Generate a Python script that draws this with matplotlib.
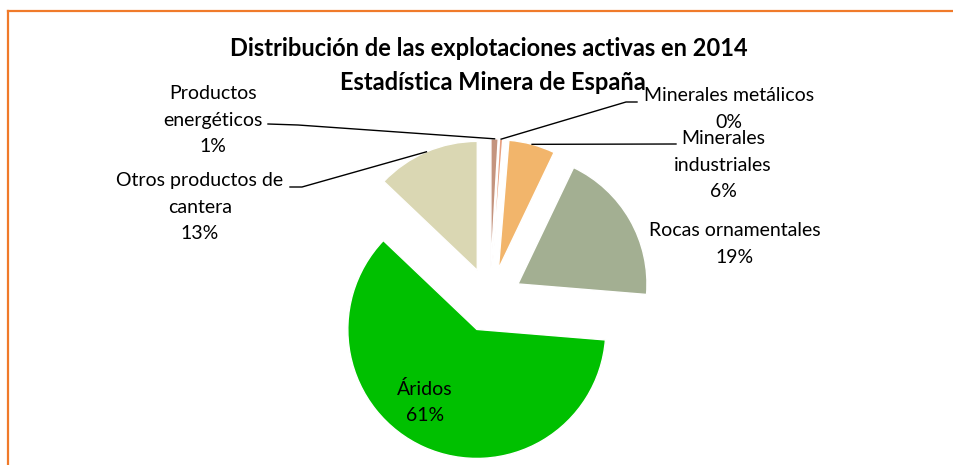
import numpy as np
import matplotlib
matplotlib.use("Agg")
import matplotlib.pyplot as plt
from matplotlib.lines import Line2D

# data (percent of active explotaciones, 2014)
categories = ["Productos\nenergéticos", "Minerales metálicos", "Minerales\nindustriales",
              "Rocas ornamentales", "Áridos", "Otros productos de\ncantera"]
values = [0.9, 0.4, 5.8, 19.2, 60.8, 12.9]
pct_labels = ["1%", "0%", "6%", "19%", "61%", "13%"]
colors = ["#C4947E", "#E8A080", "#F2B56B", "#A3AF92", "#00C000", "#DAD7B3"]

W, H = 954, 465
plt.rcParams['font.family'] = ['Lato', 'DejaVu Sans']

fig = plt.figure(figsize=(W / 100, H / 100), dpi=100)
ax = fig.add_axes([0, 0, 1, 1])

R = 129
wedges, _ = ax.pie(values, radius=R, center=(490, H - 300), explode=[0.25 * R] * len(values),
                   startangle=90, counterclock=False, colors=colors,
                   wedgeprops=dict(edgecolor="white", linewidth=1))
ax.set_xlim(0, W)
ax.set_ylim(0, H)
ax.set_aspect("equal")
ax.axis("off")


def img(x, y):
    # image pixel coords (y down) -> data coords
    return x, H - y


def arc_point(w):
    a = np.deg2rad((w.theta1 + w.theta2) / 2)
    return w.center[0] + w.r * np.cos(a), w.center[1] + w.r * np.sin(a)


txt = dict(fontsize=14, ha="center", va="center", linespacing=1.65, color="black")

# label block centres (image coords) and leader elbows
label_pos = [(213, 120), (729, 109), (723, 165), (735, 244), (425, 402), (200, 207)]
leaders = {0: [(298, 125), (268, 124)],
           1: [(626, 102), (637, 102)],
           2: [(676, 144)],
           5: [(302, 187), (290, 187)]}

for i, (cat, pl) in enumerate(zip(categories, pct_labels)):
    x, y = img(*label_pos[i])
    ax.text(x, y, cat + "\n" + pl, **txt)
    if i in leaders:
        pts = [arc_point(wedges[i])] + [img(*p) for p in leaders[i]]
        xs, ys = zip(*pts)
        ax.plot(xs, ys, color="black", lw=1)

# title
ax.text(*img(489, 48), "Distribución de las explotaciones activas en 2014",
        fontsize=17, fontweight="bold", ha="center", va="center")
ax.text(*img(493, 82), "Estadística Minera de España",
        fontsize=17, fontweight="bold", ha="center", va="center")

# orange frame (top and left)
fig.add_artist(Line2D([8 / W, 1], [1 - 11.5 / H, 1 - 11.5 / H], color="#F07A2A", lw=1.6))
fig.add_artist(Line2D([8 / W, 8 / W], [0, 1 - 11.5 / H], color="#F07A2A", lw=1.6))

fig.savefig("out.png", dpi=100)
